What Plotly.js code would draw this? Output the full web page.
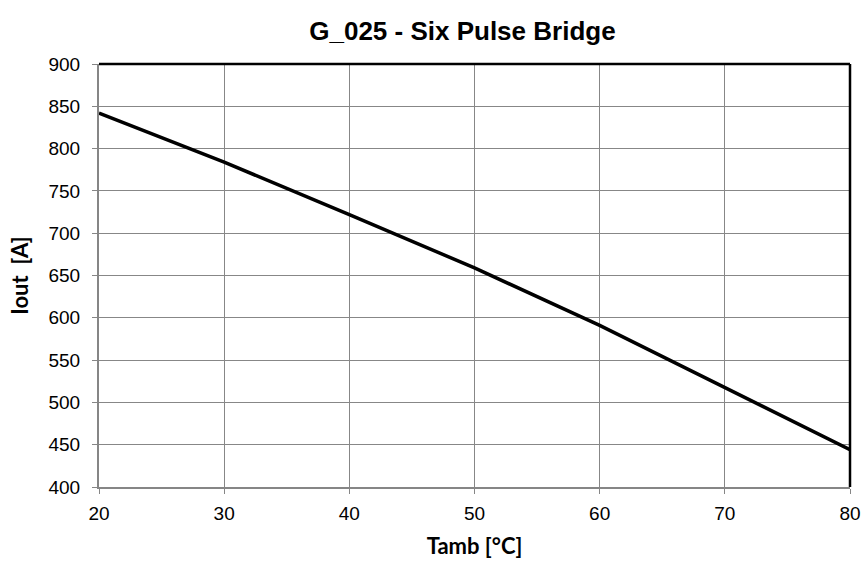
<!DOCTYPE html>
<html>
<head>
<meta charset="utf-8">
<script src="https://cdn.plot.ly/plotly-3.0.1.min.js"></script>
<style>html,body{margin:0;padding:0;background:#fff;}#chart{width:866px;height:564px;}</style>
</head>
<body>
<div id="chart"></div>
<script>
// Data
const tamb = [20, 30, 40, 50, 60, 70, 80];
const iout = [842, 784, 722, 659, 591, 518, 444];
const xTicks = [20, 30, 40, 50, 60, 70, 80];
const yTicks = [400, 450, 500, 550, 600, 650, 700, 750, 800, 850, 900];

const trace = {
  x: tamb,
  y: iout,
  type: 'scatter',
  mode: 'lines',
  line: {color: '#000000', width: 3.5},
  hoverinfo: 'skip'
};

const tickFont = {family: 'Liberation Sans, Arial, sans-serif', size: 19, color: '#000'};
const axTitleFont = {family: 'Lato, Carlito, Calibri, sans-serif', size: 22, color: '#000', weight: 'bold'};

const layout = {
  width: 866,
  height: 564,
  paper_bgcolor: '#ffffff',
  plot_bgcolor: '#ffffff',
  margin: {l: 99, r: 16, t: 64, b: 77},
  showlegend: false,
  title: {
    text: 'G_025 - Six Pulse Bridge',
    font: {family: 'Liberation Sans, Arial, sans-serif', size: 26, color: '#000', weight: 'bold'},
    x: 0.534, xref: 'container', xanchor: 'center',
    y: 0.946, yref: 'container', yanchor: 'middle'
  },
  xaxis: {
    range: [20, 80],
    tickvals: xTicks,
    ticktext: xTicks.map(String),
    showgrid: true,
    gridcolor: '#878787',
    gridwidth: 1,
    zeroline: false,
    showline: true,
    linecolor: '#868686',
    linewidth: 2,
    ticks: 'outside',
    ticklen: 5,
    tickcolor: '#868686',
    tickwidth: 1,
    tickfont: tickFont,
    ticklabelstandoff: 3,
    title: {text: 'Tamb [°C]', font: axTitleFont, standoff: 16}
  },
  yaxis: {
    range: [400, 900],
    tickvals: yTicks,
    ticktext: yTicks.map(String),
    showgrid: true,
    gridcolor: '#878787',
    gridwidth: 1,
    zeroline: false,
    showline: true,
    linecolor: '#868686',
    linewidth: 2,
    ticks: 'outside',
    ticklen: 5,
    tickcolor: '#868686',
    tickwidth: 1,
    tickfont: tickFont,
    ticklabelstandoff: 8,
    title: {text: 'Iout \u00a0[A]', font: axTitleFont, standoff: 14}
  },
  shapes: [
    {type: 'line', xref: 'paper', yref: 'paper', x0: 0, x1: 1, y0: 1, y1: 1, line: {color: '#000', width: 2.5}},
    {type: 'line', xref: 'paper', yref: 'paper', x0: 1, x1: 1, y0: 0, y1: 1, line: {color: '#000', width: 2.5}}
  ]
};

Plotly.newPlot('chart', [trace], layout, {displayModeBar: false, staticPlot: true});
</script>
</body>
</html>
